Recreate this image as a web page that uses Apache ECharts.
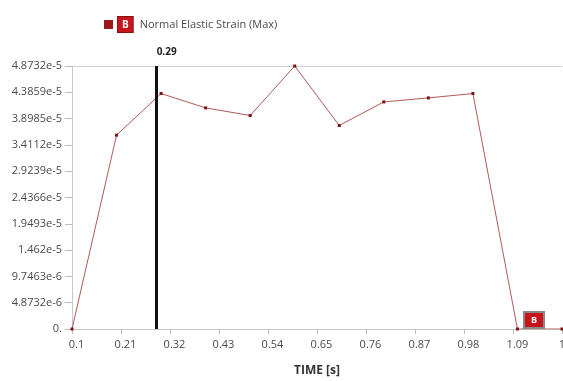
<!DOCTYPE html>
<html>
<head>
<meta charset="utf-8">
<script src="https://cdn.jsdelivr.net/npm/echarts@6/dist/echarts.min.js"></script>
<style>
  html, body { margin: 0; padding: 0; background: #fff; }
  #chart { width: 563px; height: 381px; }
</style>
</head>
<body>
<div id="chart"></div>
<script>
// Time steps [s] and maximum normal elastic strain at each step
const timeSteps = [0.1, 0.2, 0.3, 0.4, 0.5, 0.6, 0.7, 0.8, 0.9, 1.0, 1.1, 1.2];
const strainMax = [0, 3.592e-5, 4.363e-5, 4.097e-5, 3.956e-5, 4.8732e-5, 3.771e-5, 4.208e-5, 4.282e-5, 4.363e-5, 0, 0];

// Axis tick labels
const xTickLabels = ['0.1', '0.21', '0.32', '0.43', '0.54', '0.65', '0.76', '0.87', '0.98', '1.09', '1.2'];
const yTickLabels = ['0.', '4.8732e-6', '9.7463e-6', '1.462e-5', '1.9493e-5', '2.4366e-5',
                     '2.9239e-5', '3.4112e-5', '3.8985e-5', '4.3859e-5', '4.8732e-5'];

const xMin = 0.1, xMax = 1.2, xStep = 0.11;
const yMin = 0, yMax = 4.8732e-5, yStep = 4.8732e-6;

// Current time cursor
const cursorTime = 0.29;
// Index of the probed result point tagged "B"
const tagIndex = 10;

const FONT = '"Open Sans", "Noto Sans", sans-serif';
const LABEL_COLOR = '#4a4a4a';

const seriesData = timeSteps.map((t, i) => {
  const item = { value: [t, strainMax[i]] };
  if (i === tagIndex) {
    item.label = {
      show: true,
      formatter: 'B',
      position: 'right',
      distance: 6,
      offset: [0, -9],
      color: '#fff',
      fontSize: 9,
      fontWeight: 'bold',
      fontFamily: FONT,
      backgroundColor: '#c8141c',
      borderColor: '#8a8a8a',
      borderWidth: 2,
      padding: [3, 6, 2, 6]
    };
  }
  return item;
});

const chart = echarts.init(document.getElementById('chart'), null, { renderer: 'canvas' });

chart.setOption({
  animation: false,
  backgroundColor: '#fff',
  textStyle: { fontFamily: FONT },
  grid: { left: 72, right: 1, top: 66, bottom: 52, containLabel: false, outerBoundsMode: 'none' },
  legend: {
    left: 99,
    top: 11,
    itemWidth: 9,
    itemHeight: 9,
    icon: 'rect',
    data: [{ name: 'Normal Elastic Strain (Max)', itemStyle: { color: '#9b1b1b' } }],
    formatter: name => '{b|B}{s|}{t|' + name + '}',
    textStyle: {
      rich: {
        b: {
          color: '#fff', fontSize: 10, fontWeight: 'bold', fontFamily: FONT,
          backgroundColor: '#c8141c', borderColor: '#8a1010', borderWidth: 1,
          padding: [3, 4, 2, 4]
        },
        s: { width: 7 },
        t: { color: LABEL_COLOR, fontSize: 11, fontFamily: FONT }
      }
    }
  },
  xAxis: [{
    type: 'value',
    min: xMin, max: xMax, interval: xStep,
    name: 'TIME [s]',
    nameLocation: 'middle',
    nameGap: 36,
    nameTextStyle: { color: '#333', fontSize: 12, fontWeight: 'bold', fontFamily: FONT },
    axisLine: { show: true, lineStyle: { color: '#c8c8c8' } },
    axisTick: { show: true, length: 5, lineStyle: { color: '#bbb' } },
    axisLabel: {
      color: LABEL_COLOR, fontSize: 11, margin: 10, fontFamily: FONT,
      padding: [0, 0, 0, 9],
      formatter: v => xTickLabels[Math.round((v - xMin) / xStep)] ?? ''
    },
    splitLine: { show: false }
  }, {
    // top border of the plot area
    type: 'value',
    position: 'top',
    min: xMin, max: xMax,
    axisLine: { show: true, lineStyle: { color: '#d0d0d0' } },
    axisTick: { show: false },
    axisLabel: { show: false },
    splitLine: { show: false }
  }],
  yAxis: {
    type: 'value',
    min: yMin, max: yMax, interval: yStep,
    axisLine: { show: true, lineStyle: { color: '#c8c8c8' } },
    axisTick: { show: true, length: 7, lineStyle: { color: '#bbb' } },
    axisLabel: {
      color: LABEL_COLOR, fontSize: 11, margin: 10, fontFamily: FONT,
      formatter: v => yTickLabels[Math.round(v / yStep)] ?? ''
    },
    splitLine: { show: false }
  },
  series: [{
    name: 'Normal Elastic Strain (Max)',
    type: 'line',
    xAxisIndex: 0,
    data: seriesData,
    symbol: 'rect',
    symbolSize: 3,
    showAllSymbol: true,
    itemStyle: { color: '#7a1212' },
    lineStyle: { color: '#b05a58', width: 1 },
    markLine: {
      silent: true,
      symbol: 'none',
      animation: false,
      lineStyle: { color: '#111', width: 3, type: 'solid' },
      label: {
        show: true,
        position: 'end',
        formatter: String(cursorTime),
        color: '#222',
        fontSize: 10,
        fontWeight: 'bold',
        fontFamily: FONT,
        align: 'left',
        distance: 9
      },
      data: [{ xAxis: cursorTime }]
    }
  }]
});
</script>
</body>
</html>
